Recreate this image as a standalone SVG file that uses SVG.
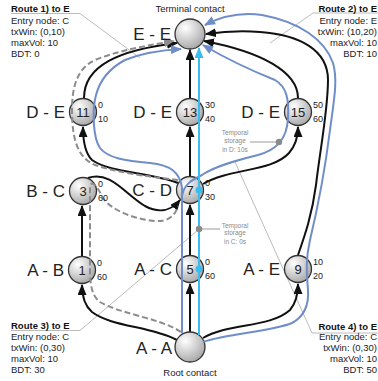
<svg xmlns="http://www.w3.org/2000/svg" width="378" height="381" viewBox="0 0 378 381">
<defs>
<radialGradient id="g" cx="0.35" cy="0.3" r="0.75">
<stop offset="0" stop-color="#ffffff"/>
<stop offset="1" stop-color="#a6a6a6"/>
</radialGradient>
<marker id="ak" markerUnits="userSpaceOnUse" markerWidth="11" markerHeight="9" refX="10" refY="4.5" orient="auto"><path d="M0,0 L11,4.5 L0,9 z" fill="#111"/></marker>
<marker id="ab" markerUnits="userSpaceOnUse" markerWidth="11" markerHeight="9" refX="10" refY="4.5" orient="auto"><path d="M0,0 L11,4.5 L0,9 z" fill="#6f8ec9"/></marker>
<marker id="ac" markerUnits="userSpaceOnUse" markerWidth="11" markerHeight="9" refX="10" refY="4.5" orient="auto"><path d="M0,0 L11,4.5 L0,9 z" fill="#3bbcf0"/></marker>
<marker id="ad" markerUnits="userSpaceOnUse" markerWidth="11" markerHeight="9" refX="10" refY="4.5" orient="auto"><path d="M0,0 L11,4.5 L0,9 z" fill="#8c8c8c"/></marker>
</defs>
<style>
.e{fill:none;stroke:#111;stroke-width:2;marker-end:url(#ak)}
.b{fill:none;stroke:#6f8ec9;stroke-width:2}
.c{fill:none;stroke:#3bbcf0;stroke-width:2}
.d{fill:none;stroke:#8c8c8c;stroke-width:2;stroke-dasharray:6 3}
.p{fill:none;stroke:#aaaaaa;stroke-width:0.8}
.n{fill:url(#g);stroke:#333;stroke-width:1.3}
.t{font-family:"Liberation Sans",Arial,sans-serif;fill:#222}
.lab{font-size:17px;text-anchor:end}
.num{font-size:13px;text-anchor:middle}
.w{font-size:9px}
.r{font-size:9.5px}
.rb{font-weight:bold;fill:#111}
.end{text-anchor:end}
.tmp{font-family:"Liberation Sans",Arial,sans-serif;font-size:6.5px;fill:#8a8a8a;text-anchor:middle}
.cap{font-size:9.5px;text-anchor:middle}
</style>

<g id="pointers">
<path class="p" d="M11 13.5 L80 13.5 L140 58"/>
<path class="p" d="M378 13 L313 13 L270 43"/>
<path class="p" d="M11 330.5 L80 330.5 L198 230"/>
<path class="p" d="M378 333 L312 333 L235 162"/>
</g>

<g id="connectors">
<path class="e" d="M177 340 C150 326 112 327 92 312 C85 306 82 297 82 285"/>
<path class="e" d="M82 256 L82 206"/>
<path class="e" d="M88 178 C110 170 126 195 145 206 C160 214 172 210 180 200"/>
<path class="e" d="M178 183 C150 172 110 173 92 160 C85 153 83 140 83 127"/>
<path class="e" d="M190 176 L190 127"/>
<path class="e" d="M203 184 C230 168 272 172 289 153 C296 145 298 137 298 127"/>
<path class="e" d="M84 98 C84 66 118 50 177 43"/>
<path class="e" d="M190 98 L190 50"/>
<path class="e" d="M298 98 C298 72 262 52 204 41"/>
<path class="e" d="M190 332 L190 284"/>
<path class="e" d="M190 255 L190 205"/>
<path class="e" d="M203 338 C228 323 270 328 290 310 C296 303 298 294 298 284"/>
<path class="e" d="M298 255 C305 235 312 215 316 185 C320 150 328 110 328 80 C328 50 300 35 260 32 C235 30 220 32 206 34"/>
</g>

<g id="node-EE"><circle class="n" cx="190" cy="34" r="15"/></g>
<g id="node-AA"><circle class="n" cx="190" cy="347" r="15"/></g>
<g id="node-11"><circle class="n" cx="83" cy="112" r="13.5"/><text class="t num" x="83" y="116.5">11</text></g>
<g id="node-13"><circle class="n" cx="190" cy="112" r="13.5"/><text class="t num" x="190" y="116.5">13</text></g>
<g id="node-15"><circle class="n" cx="298" cy="112" r="13.5"/><text class="t num" x="298" y="116.5">15</text></g>
<g id="node-3"><circle class="n" cx="83" cy="191" r="13.5"/><text class="t num" x="83" y="195.5">3</text></g>
<g id="node-7"><circle class="n" cx="190" cy="190" r="13.5"/><text class="t num" x="190" y="194.5">7</text></g>
<g id="node-1"><circle class="n" cx="82" cy="270" r="13.5"/><text class="t num" x="82" y="274.5">1</text></g>
<g id="node-5"><circle class="n" cx="190" cy="269" r="13.5"/><text class="t num" x="190" y="273.5">5</text></g>
<g id="node-9"><circle class="n" cx="298" cy="269" r="13.5"/><text class="t num" x="298" y="273.5">9</text></g>

<g id="routes">
<path class="b" d="M182 333 L182 188 C180 172 170 165 150 163 C125 161 108 158 100 148 C93 138 92 110 96 95 C100 80 110 68 125 60 C145 52 163 50 181 49" marker-end="url(#ab)"/>
<path class="b" d="M182 196 C184 184 192 180 202 175 C215 166 238 160 258 155 C276 150 287 140 288 118 C289 100 287 87 275 80 C255 72 225 58 203 45" marker-end="url(#ab)"/>
<path class="b" d="M203 342 C230 333 270 332 292 323 C305 316 309 305 308 290 C307 275 305 262 310 240 C316 215 325 170 330 130 C334 100 338 80 333 63 C325 40 300 22 262 15 C240 12 222 16 205 25" marker-end="url(#ab)"/>
<path class="c" d="M199 335 L199 48" marker-end="url(#ac)"/>
<path class="d" d="M181 332 C160 318 120 314 100 302 C92 296 90 285 90 270 L90 186 C92 180 97 186 103 198 C112 211 135 219 155 221 C168 222 175 216 178 206"/>
<path class="d" d="M178 180 C150 177 115 172 95 165 C78 158 72 140 72 110 C72 85 78 68 95 60 C120 50 150 45 174 41" marker-end="url(#ad)"/>
<circle cx="199" cy="190" r="3.5" fill="#3bbcf0"/>
<circle cx="199" cy="269" r="3.5" fill="#3bbcf0"/>
</g>

<g id="notes">
<path d="M250 142 L279 142" stroke="#999" stroke-width="1"/>
<circle cx="279" cy="142" r="3.2" fill="#8a8a8a"/>
<text class="tmp" x="235" y="135">Temporal</text>
<text class="tmp" x="235" y="143">storage</text>
<text class="tmp" x="235" y="151.5">in D: 10s</text>
<path d="M199 229 L220 229" stroke="#999" stroke-width="1"/>
<circle cx="199" cy="229" r="3.2" fill="#8a8a8a"/>
<text class="tmp" x="235" y="227.5">Temporal</text>
<text class="tmp" x="235" y="235">storage</text>
<text class="tmp" x="235" y="244">in C: 0s</text>
</g>

<g id="labels">
<text class="t cap" x="190" y="12">Terminal contact</text>
<text class="t cap" x="190" y="376">Root contact</text>
<text class="t lab" x="171" y="40">E - E</text>
<text class="t lab" x="172" y="354">A - A</text>
<text class="t lab" x="65" y="118">D - E</text>
<text class="t lab" x="172" y="118">D - E</text>
<text class="t lab" x="280" y="118">D - E</text>
<text class="t lab" x="65" y="197">B - C</text>
<text class="t lab" x="172" y="196">C - D</text>
<text class="t lab" x="64" y="276">A - B</text>
<text class="t lab" x="172" y="275">A - C</text>
<text class="t lab" x="280" y="275">A - E</text>
<text class="t w" x="98" y="108">0</text><text class="t w" x="98" y="122">10</text>
<text class="t w" x="205" y="108">30</text><text class="t w" x="205" y="122">40</text>
<text class="t w" x="313" y="108">50</text><text class="t w" x="313" y="122">60</text>
<text class="t w" x="98" y="187">0</text><text class="t w" x="98" y="201">60</text>
<text class="t w" x="205" y="186">0</text><text class="t w" x="205" y="200">30</text>
<text class="t w" x="97" y="266">0</text><text class="t w" x="97" y="280">60</text>
<text class="t w" x="205" y="265">0</text><text class="t w" x="205" y="279">60</text>
<text class="t w" x="313" y="265">10</text><text class="t w" x="313" y="279">20</text>
</g>

<g id="route1">
<text class="t r rb" x="11" y="12">Route 1) to E</text>
<text class="t r" x="11" y="24">Entry node: C</text>
<text class="t r" x="11" y="35">txWin: (0,10)</text>
<text class="t r" x="11" y="46">maxVol: 10</text>
<text class="t r" x="11" y="57">BDT: 0</text>
</g>
<g id="route2">
<text class="t r rb end" x="377" y="12">Route 2) to E</text>
<text class="t r end" x="377" y="24">Entry node: E</text>
<text class="t r end" x="377" y="35">txWin: (10,20)</text>
<text class="t r end" x="377" y="46">maxVol: 10</text>
<text class="t r end" x="377" y="57">BDT: 10</text>
</g>
<g id="route3">
<text class="t r rb" x="11" y="328.5">Route 3) to E</text>
<text class="t r" x="11" y="340">Entry node: C</text>
<text class="t r" x="11" y="351">txWin: (0,30)</text>
<text class="t r" x="11" y="362">maxVol: 10</text>
<text class="t r" x="11" y="373">BDT: 30</text>
</g>
<g id="route4">
<text class="t r rb end" x="377" y="330">Route 4) to E</text>
<text class="t r end" x="377" y="340">Entry node: C</text>
<text class="t r end" x="377" y="351">txWin: (0,30)</text>
<text class="t r end" x="377" y="362">maxVol: 10</text>
<text class="t r end" x="377" y="373">BDT: 50</text>
</g>
</svg>
